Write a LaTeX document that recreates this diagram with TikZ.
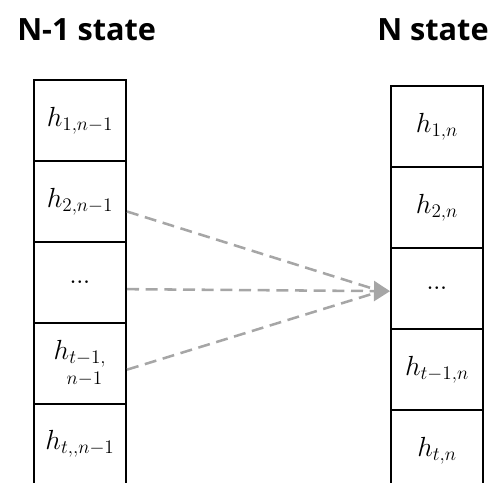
\documentclass[tikz,border=0pt]{standalone}
\usepackage{fontspec}
\newfontfamily\titlefont{Open Sans}[BoldFont={* Bold}]
\usetikzlibrary{arrows.meta}
\definecolor{arrowgray}{HTML}{A6A6A6}
\tikzset{
  cell/.style={draw=black, line width=1.5pt, minimum width=69pt, minimum height=60.75pt, inner sep=0pt, font=\fontsize{21.5}{25}\selectfont},
  title/.style={anchor=base west, inner sep=0pt, font=\titlefont\bfseries\fontsize{23}{28}\selectfont},
  link/.style={draw=arrowgray, line width=1.9pt, dash pattern=on 9pt off 5pt},
}
\newcommand{\celldots}{$\ldotp\mkern-3.5mu\ldotp\mkern-3.5mu\ldotp$}
\begin{document}
\begin{tikzpicture}[x=0.75pt, y=-0.75pt]
\useasboundingbox (0,0) rectangle (488,482);
\node[title] (t1) at (17,40) {N-1 state};
\node[title] (t2) at (377,40) {N state};
% left column
\node[cell] (l1) at (80,120.5) {$h_{1,n-1}$};
\node[cell] (l2) at (80,201.5) {$h_{2,n-1}$};
\node[cell] (l3) at (80,282.5) {\celldots};
\node[cell, align=left] (l4) at (80,363) {$h_{t-1,}$\\[-6pt]\hspace*{0.45em}$\scriptstyle n-1$};
\node[cell] (l5) at (80,444) {$h_{t,,n-1}$};
% right column
\node[cell] (r1) at (437,126.5) {$h_{1,n}$};
\node[cell] (r2) at (437,207.5) {$h_{2,n}$};
\node[cell] (r3) at (437,288.5) {\celldots};
\node[cell] (r4) at (437,369.5) {$h_{t-1,n}$};
\node[cell] (r5) at (437,450.5) {$h_{t,n}$};
% connectors
\coordinate (tip) at ([yshift=-2pt]r3.west);
\coordinate (tipbase) at ([xshift=-10pt]tip);
\draw[link] ([yshift=-7.5pt]l2.east) -- ([yshift=1pt]tipbase);
\draw[link] ([yshift=-5pt]l4.east) -- ([yshift=-1pt]tipbase);
\draw[link, -{Triangle[length=12pt, width=15pt]}] ([yshift=-5pt]l3.east) -- (tip);
\end{tikzpicture}
\end{document}
